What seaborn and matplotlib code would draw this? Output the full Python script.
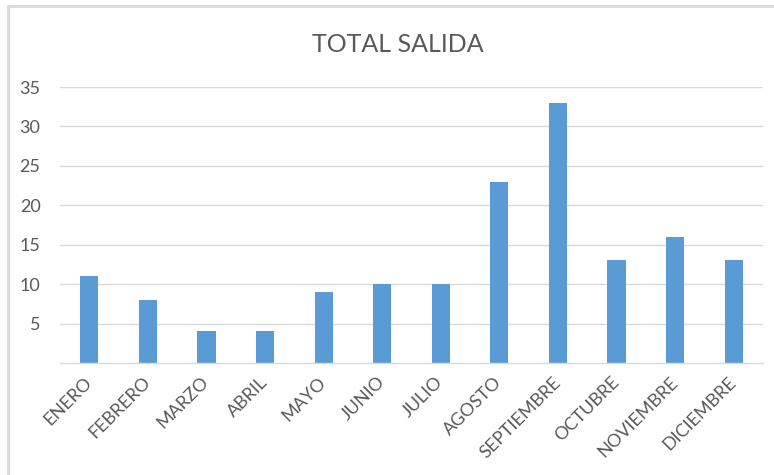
import matplotlib
matplotlib.use("Agg")
import matplotlib.pyplot as plt
from matplotlib.lines import Line2D
import seaborn as sns
import pandas as pd

meses = ["ENERO", "FEBRERO", "MARZO", "ABRIL", "MAYO", "JUNIO",
         "JULIO", "AGOSTO", "SEPTIEMBRE", "OCTUBRE", "NOVIEMBRE", "DICIEMBRE"]
salida = [11, 8, 4, 4, 9, 10, 10, 23, 33, 13, 16, 13]
y_ticks = [5, 10, 15, 20, 25, 30, 35]
titulo = "TOTAL SALIDA"

sns.set_theme(style="white")
plt.rcParams["font.family"] = ["Lato", "DejaVu Sans"]

texto = "#595959"
rejilla = "#D9D9D9"
azul = "#5B9BD5"

df = pd.DataFrame({"mes": meses, "salida": salida})

fig = plt.figure(figsize=(7.74, 4.75), dpi=100)
ax = fig.add_axes([60 / 774, 1 - 363 / 475, (763 - 60) / 774, (363 - 87) / 475])

sns.barplot(data=df, x="mes", y="salida", color=azul, saturation=1,
            width=0.31, linewidth=0, ax=ax, zorder=3)

ax.set_ylim(0, 35)
ax.set_xlim(-0.5, len(meses) - 0.5)
ax.set_yticks(y_ticks)
ax.yaxis.grid(True, color=rejilla, linewidth=1, zorder=0)
ax.xaxis.grid(False)
for s in ["top", "right", "left"]:
    ax.spines[s].set_visible(False)
ax.spines["bottom"].set_color(rejilla)
ax.spines["bottom"].set_linewidth(1)
ax.spines["bottom"].set_zorder(4)

ax.set_xlabel("")
ax.set_ylabel("")
ax.tick_params(axis="both", length=0, labelsize=13, labelcolor=texto)
ax.tick_params(axis="y", pad=14)
ax.tick_params(axis="x", pad=12, labelsize=13)
for lbl in ax.get_xticklabels():
    lbl.set_rotation(45)
    lbl.set_ha("right")
    lbl.set_va("center")
    lbl.set_rotation_mode("anchor")

fig.text(398 / 774, 1 - 44 / 475, titulo, ha="center", va="center",
         fontsize=18, color=texto)

# chart frame: top and left edges
fig.add_artist(Line2D([7.5 / 774, 7.5 / 774], [0, 1 - 6 / 475],
                      transform=fig.transFigure, color=rejilla, linewidth=2))
fig.add_artist(Line2D([7.5 / 774, 1], [1 - 6 / 475, 1 - 6 / 475],
                      transform=fig.transFigure, color=rejilla, linewidth=2))

fig.savefig("out.png", dpi=100, facecolor="white")
